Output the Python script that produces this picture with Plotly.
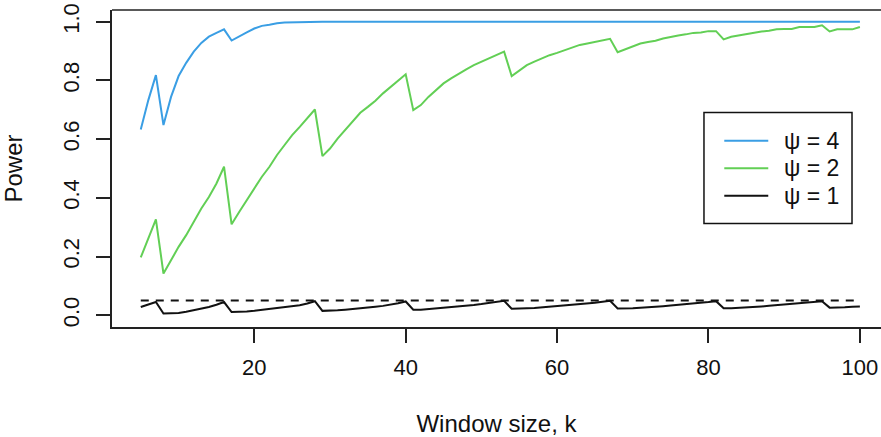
import plotly.graph_objects as go

window_k = list(range(5, 101))

power_psi4 = [0.633, 0.733, 0.818, 0.648, 0.744, 0.815, 0.860, 0.898, 0.928, 0.949, 0.962, 0.974,
              0.936, 0.951, 0.964, 0.977, 0.986, 0.990, 0.995, 0.997, 0.998, 0.999] + [1.0] * 74

power_psi2 = [0.197, 0.261, 0.327, 0.142, 0.188, 0.233, 0.273, 0.318, 0.364, 0.403, 0.449, 0.506,
              0.310, 0.352, 0.392, 0.432, 0.472, 0.506, 0.546, 0.580, 0.614, 0.642, 0.671, 0.701,
              0.542, 0.568, 0.602, 0.631, 0.659, 0.690, 0.710, 0.731, 0.756, 0.778, 0.801, 0.821,
              0.699, 0.716, 0.744, 0.767, 0.790, 0.807, 0.824, 0.838, 0.852, 0.864, 0.875, 0.886, 0.898,
              0.815, 0.835, 0.852, 0.864, 0.875, 0.886, 0.894, 0.903, 0.913, 0.921, 0.926, 0.931, 0.935, 0.942,
              0.896, 0.906, 0.917, 0.926, 0.931, 0.935, 0.943, 0.949, 0.953, 0.957, 0.962, 0.963, 0.968, 0.968,
              0.940, 0.949, 0.954, 0.957, 0.964, 0.967, 0.969, 0.974, 0.975, 0.975, 0.982, 0.982, 0.982, 0.988,
              0.967, 0.974, 0.974, 0.974, 0.982]

power_psi1 = [0.028, 0.037, 0.045, 0.006, 0.006, 0.008, 0.012, 0.017, 0.022, 0.028, 0.036, 0.045,
              0.011, 0.011, 0.013, 0.015, 0.018, 0.021, 0.024, 0.027, 0.030, 0.034, 0.040, 0.048,
              0.015, 0.015, 0.017, 0.019, 0.021, 0.024, 0.026, 0.029, 0.032, 0.036, 0.041, 0.047,
              0.019, 0.019, 0.021, 0.023, 0.025, 0.027, 0.029, 0.032, 0.035, 0.038, 0.041, 0.045, 0.049,
              0.022, 0.022, 0.024, 0.025, 0.027, 0.029, 0.031, 0.033, 0.035, 0.038, 0.040, 0.043, 0.046, 0.049,
              0.023, 0.023, 0.024, 0.026, 0.027, 0.029, 0.031, 0.033, 0.035, 0.037, 0.039, 0.042, 0.045, 0.048,
              0.024, 0.024, 0.025, 0.027, 0.028, 0.030, 0.032, 0.034, 0.036, 0.038, 0.040, 0.042, 0.045, 0.048,
              0.026, 0.026, 0.027, 0.029, 0.030]

alpha_level = 0.05

x_ticks = [20, 40, 60, 80, 100]
y_ticks = [0.0, 0.2, 0.4, 0.6, 0.8, 1.0]
y_tick_labels = ["0.0", "0.2", "0.4", "0.6", "0.8", "1.0"]

series_names = ["\u03c8 = 4", "\u03c8 = 2", "\u03c8 = 1"]
series_colors = ["#3a9ee4", "#62cf55", "#111111"]

FONT = "Liberation Sans, Arial, sans-serif"
FS = 22
FS_TITLE = 24

fig = go.Figure()
for name, vals, col in zip(series_names, [power_psi4, power_psi2, power_psi1], series_colors):
    fig.add_trace(go.Scatter(x=window_k, y=vals, mode="lines", name=name,
                             line=dict(color=col, width=2), showlegend=False))

fig.add_trace(go.Scatter(x=[window_k[0], window_k[-1]], y=[alpha_level, alpha_level], mode="lines",
                         line=dict(color="#111111", width=2, dash="8px,7px"), showlegend=False))

fig.update_layout(
    width=881, height=437,
    margin=dict(l=112, r=0, t=10, b=110, autoexpand=False),
    paper_bgcolor="white", plot_bgcolor="white",
    font=dict(family=FONT, size=FS, color="#111111"),
    xaxis=dict(range=[1.2, 102.79], tickvals=x_ticks, ticks="outside", ticklen=14, tickwidth=1.5,
               tickcolor="#222", showline=True, linecolor="#222", linewidth=1.5, mirror=False,
               showgrid=False, zeroline=False, ticklabelstandoff=6, automargin=False,
               title=dict(text="Window size, k", standoff=36, font=dict(size=FS_TITLE))),
    yaxis=dict(range=[-0.04, 1.04], tickvals=y_ticks, ticktext=y_tick_labels, ticks="outside",
               ticklen=14, tickwidth=1.5, tickcolor="#222", showline=True, linecolor="#222",
               linewidth=1.5, showgrid=False, zeroline=False, tickangle=-90, ticklabelstandoff=8,
               automargin=False,
               title=dict(text="Power", standoff=31, font=dict(size=FS_TITLE))),
)

# top border of the plot box
fig.add_shape(type="line", xref="paper", yref="paper", x0=0, x1=1, y0=1, y1=1,
              line=dict(color="#222", width=1.5))

# legend box
lx0, lx1, ly0, ly1 = 0.7698, 0.9623, 0.3265, 0.6767
fig.add_shape(type="rect", xref="paper", yref="paper", x0=lx0, x1=lx1, y0=ly0, y1=ly1,
              line=dict(color="#111", width=1.5), fillcolor="white", layer="above")
row_y = [0.5878, 0.5010, 0.4143]
for name, col, yy in zip(series_names, series_colors, row_y):
    fig.add_shape(type="line", xref="paper", yref="paper", x0=0.7962, x1=0.8534, y0=yy, y1=yy,
                  line=dict(color=col, width=2), layer="above")
    fig.add_annotation(xref="paper", yref="paper", x=0.8710, y=yy, text=name, showarrow=False,
                       xanchor="left", yanchor="middle", font=dict(size=23, color="#111"))

fig.write_html("out.html", config={"displayModeBar": False},
               post_script="document.body.style.margin='0';")
